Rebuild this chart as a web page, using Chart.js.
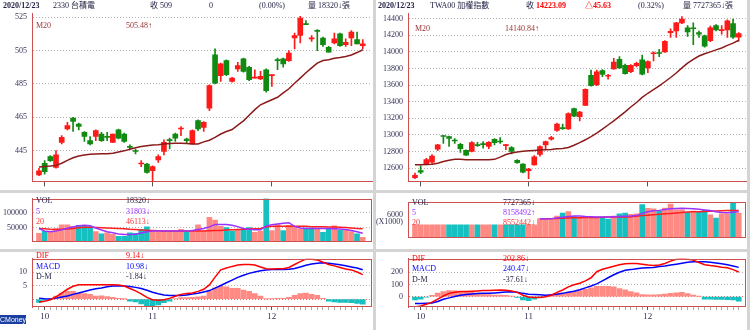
<!DOCTYPE html>
<html>
<head>
<meta charset="utf-8">
<title>2330 / TWA00</title>
<script src="https://cdn.jsdelivr.net/npm/chart.js@4.4.1/dist/chart.umd.min.js"></script>
<style>
  body { margin: 0; width: 750px; height: 330px; position: relative; overflow: hidden; background: #fff;
         font-family: "Liberation Serif", "Noto Sans CJK TC", serif; }
  canvas { position: absolute; }
  .sep { position: absolute; background: #d4d4d4; }
  .t { position: absolute; font-size: 8px; line-height: 10px; white-space: nowrap; color: #222244; z-index: 2; }
  .b { font-weight: bold; }
  .red { color: #ff0000; }
  .pur { color: #9933ff; }
  .blu { color: #0000ff; }
  .ma { color: #993333; }
  .vr { color: #ff3333; }
  #cm { position: absolute; left: 0; top: 315px; width: 26px; height: 9px; background: #1a3fa0; color: #fff;
        font-size: 7px; line-height: 9px; font-family: "Liberation Sans", sans-serif; z-index: 2; }
</style>
</head>
<body>
<div class="sep" style="left:0;top:190px;width:750px;height:3px"></div>
<div class="sep" style="left:0;top:249px;width:750px;height:3px"></div>
<div class="sep" style="left:373px;top:0;width:3px;height:330px"></div>
<div class="sep" style="left:747px;top:0;width:3px;height:330px"></div>

<div id="labels">
  <!-- left header -->
  <div class="t b" style="left:3px;top:1px">2020/12/23</div>
  <div class="t" style="left:53px;top:1px">2330 台積電</div>
  <div class="t" style="left:150px;top:1px">收 509</div>
  <div class="t" style="left:209px;top:1px">0</div>
  <div class="t" style="left:259px;top:1px">(0.00%)</div>
  <div class="t" style="left:308px;top:1px">量 18320↓張</div>
  <div class="t ma" style="left:36px;top:21px">M20</div>
  <div class="t ma" style="left:126px;top:21px">505.48↑</div>
  <div class="t" style="left:36px;top:196px">VOL</div>
  <div class="t pur" style="left:36px;top:207px">5</div>
  <div class="t vr" style="left:36px;top:217px">20</div>
  <div class="t" style="left:126px;top:196px">18320↓</div>
  <div class="t pur" style="left:126px;top:207px">31803↓</div>
  <div class="t vr" style="left:126px;top:217px">46113↓</div>
  <div class="t red" style="left:36px;top:251px">DIF</div>
  <div class="t blu" style="left:36px;top:262px">MACD</div>
  <div class="t" style="left:36px;top:272px">D-M</div>
  <div class="t red" style="left:126px;top:251px">9.14↓</div>
  <div class="t blu" style="left:126px;top:262px">10.98↓</div>
  <div class="t" style="left:126px;top:272px">-1.84↓</div>

  <!-- right header -->
  <div class="t b" style="left:378px;top:1px">2020/12/23</div>
  <div class="t" style="left:430px;top:1px">TWA00 加權指數</div>
  <div class="t" style="left:526px;top:1px">收 <b class="red">14223.09</b></div>
  <div class="t b red" style="left:585px;top:1px">△45.63</div>
  <div class="t" style="left:638px;top:1px">(0.32%)</div>
  <div class="t" style="left:683px;top:1px">量 7727365↓張</div>
  <div class="t ma" style="left:415px;top:24px">M20</div>
  <div class="t ma" style="left:505px;top:24px">14140.84↑</div>
  <div class="t" style="left:412px;top:198px">VOL</div>
  <div class="t pur" style="left:412px;top:208px">5</div>
  <div class="t vr" style="left:412px;top:218px">20</div>
  <div class="t" style="left:503px;top:198px">7727365↓</div>
  <div class="t pur" style="left:503px;top:208px">8158492↑</div>
  <div class="t vr" style="left:503px;top:218px">8552442↓</div>
  <div class="t red" style="left:412px;top:254px">DIF</div>
  <div class="t blu" style="left:412px;top:264px">MACD</div>
  <div class="t" style="left:412px;top:275px">D-M</div>
  <div class="t red" style="left:503px;top:254px">202.86↓</div>
  <div class="t blu" style="left:503px;top:264px">240.47↓</div>
  <div class="t" style="left:503px;top:275px">-37.61↓</div>

  <div id="cm">CMoney</div>
</div>

<script>
/************ DATA ************/
// bar index where each month starts, and the label under it
const monthStart = [1, 20, 41];
const monthLabels = ["10", "11", "12"];

// 2330 TSMC, 2020/09/30 .. 2020/12/23
const tsOpen = [430.5, 437.5, 441.5, 435, 450, 458, 464.5, 461, 456, 451,
  453.5, 455, 453.5, 450, 457.5, 455, 447.5, 445, 437, 437,
  433, 439.5, 444.5, 451.5, 455, 458, 452, 449, 463, 459,
  470.5, 502.5, 490, 499, 486.5, 494, 500, 495, 488.5, 488,
  493.5, 490, 499.5, 500, 499, 512.5, 514, 521, 512, 517,
  512.5, 507, 509.5, 515, 508.5, 512.5, 511.5, 508];
const tsHigh = [434.5, 439, 442, 445, 454, 462, 465, 461.5, 456.5, 453.5,
  457.5, 456, 456, 455, 458, 455.5, 448.5, 446, 439, 437.5,
  436, 442.5, 451.5, 452.5, 455.5, 459.5, 452.5, 457.5, 463.5, 462.5,
  484.5, 506, 497.5, 499.5, 489, 498, 500.5, 495.5, 493.5, 492.5,
  494, 490.5, 500.5, 500.5, 505, 515.5, 525.5, 523, 514, 517.5,
  513, 507.5, 515.5, 515.5, 512, 517, 516, 511.5];
const tsLow = [430, 431, 438.5, 434.5, 449, 457.5, 456.5, 457.5, 450.5, 448.5,
  451, 450.5, 451, 450, 452, 450, 446, 443, 435.5, 431.5,
  425.5, 438, 442.5, 446, 450.5, 454, 449.5, 449, 457, 456.5,
  469, 485, 486.5, 490, 486, 492.5, 492, 487, 488.5, 487.5,
  480, 483.5, 493.5, 495, 498.5, 506, 509.5, 520.5, 510.5, 505,
  507.5, 504, 509, 507.5, 507.5, 508, 509, 506];
const tsClose = [433, 432.5, 439, 442.5, 453, 460, 462.5, 459.5, 453.5, 449,
  457, 451, 453, 455, 452.5, 450.5, 447, 444.5, 437.5, 432,
  435.5, 441.5, 450, 451, 452.5, 458.5, 451, 457, 458, 462,
  484, 485.5, 497, 490.5, 488.5, 496, 492.5, 487.5, 489, 489.5,
  481, 490.5, 499, 497, 503.5, 514, 524.5, 520.5, 512.5, 516.5,
  508.5, 504, 512, 508, 510, 516, 509, 509];
const tsMa20 = [435.2, 435.5, 435.8, 436.2, 437.5, 439.2, 440.8, 441.8, 442.4, 442.8,
  443.0, 443.2, 443.2, 443.5, 444.2, 444.9, 445.9, 446.8, 447.5, 448.0,
  448.4, 448.6, 449.0, 449.3, 449.5, 449.5, 449.3, 449.0, 449.0, 450.3,
  451.3, 453.0, 455.0, 456.5, 457.7, 460.3, 462.9, 466.2, 469.6, 472.5,
  474.0, 475.5, 477.0, 479.6, 482.1, 485.4, 488.5, 491.7, 494.6, 497.5,
  499.0, 499.5, 500.4, 500.9, 501.5, 502.3, 503.8, 505.48];
const tsVol = [31600, 38600, 38600, 47400, 59600, 59600, 54400, 57900, 56100, 53500,
  36800, 29800, 33300, 28100, 21100, 21100, 33300, 31600, 44700, 52600,
  40400, 36800, 40400, 38600, 36800, 44700, 36800, 38600, 59600, 38600,
  84200, 75400, 54400, 50000, 38600, 43900, 41200, 50000, 34200, 38600,
  146500, 40400, 60500, 40400, 57900, 50900, 45600, 49100, 49100, 47400,
  34200, 45600, 56100, 41200, 42100, 36800, 29800, 18320];
const tsVolMa5 = [47400, 38600, 36800, 38600, 43000, 48200, 52600, 56100, 57900, 56100,
  49100, 42100, 36800, 33300, 29000, 27200, 27200, 28100, 32500, 36800,
  38600, 38600, 38600, 38600, 38600, 38600, 38600, 40400, 43900, 47400,
  52600, 60500, 60500, 60500, 57900, 53500, 47400, 44700, 43000, 43000,
  56100, 59600, 62300, 64900, 66700, 54400, 49100, 47400, 47400, 47400,
  47400, 47400, 46500, 45600, 43900, 40400, 36800, 31803];
const tsVolMa20 = [47370, 46490, 44740, 43860, 44740, 45620, 47370, 50000, 51750, 51750,
  50880, 50000, 49120, 48250, 47370, 46490, 44740, 43860, 42110, 41230,
  40350, 39480, 38600, 38600, 38600, 38600, 38600, 38600, 38600, 38600,
  39480, 40350, 40350, 42110, 43000, 43860, 44740, 45620, 46490, 47370,
  52630, 54390, 54390, 54390, 54390, 54390, 54390, 54390, 53510, 53510,
  53510, 52630, 52630, 51750, 50880, 49120, 47500, 46113];
const tsDif = [-1.0, -0.8, -0.2, 0.9, 2.3, 3.7, 4.8, 5.4, 5.4, 5.4,
  5.4, 5.4, 5.4, 5.4, 5.3, 4.9, 4.0, 3.1, 2.0, 0.7,
  -0.2, -0.4, -0.2, 0.3, 1.1, 1.8, 2.1, 2.3, 2.9, 3.7,
  5.3, 8.2, 10.9, 11.6, 12.2, 12.7, 12.9, 12.9, 12.7, 12.0,
  11.3, 11.2, 11.3, 11.3, 11.8, 12.9, 14.0, 14.9, 14.9, 14.6,
  13.8, 12.9, 12.4, 11.8, 11.2, 10.9, 10.1, 9.14];
const tsMacd = [0.4, 0.2, 0.1, 0.4, 0.8, 1.2, 1.8, 2.3, 2.9, 3.4,
  3.9, 4.2, 4.6, 4.9, 4.9, 4.9, 4.7, 4.4, 4.0, 3.3,
  2.6, 2.0, 1.6, 1.4, 1.4, 1.4, 1.6, 1.9, 2.2, 2.7,
  3.2, 4.1, 5.1, 6.1, 7.1, 8.1, 8.9, 9.6, 10.1, 10.6,
  10.9, 11.0, 11.0, 11.0, 11.1, 11.4, 12.0, 12.6, 13.1, 13.4,
  13.6, 13.4, 13.1, 12.8, 12.4, 12.0, 11.6, 10.98];
const tsOsc = [-1.2, -0.4, 0.1, 1.2, 2.3, 2.9, 2.9, 2.3, 2.1, 1.8,
  1.2, 1.3, 1.0, 0.7, 0.3, 0.05, -0.7, -1.0, -1.8, -2.7,
  -2.7, -2.1, -1.3, -0.7, 0.2, 0.6, 0.6, 0.7, 0.9, 1.2,
  2.9, 4.2, 4.8, 4.6, 4.0, 4.0, 3.4, 2.9, 2.1, 1.2,
  0.1, 0.1, 0.3, 0.3, 0.7, 1.4, 2.1, 2.3, 1.8, 1.4,
  0.3, -0.7, -1.0, -1.2, -1.2, -1.3, -1.6, -1.84];

// TWA00 weighted index, same dates
const twOpen = [12484, 12569, 12647, 12670, 12829, 12984, 12980, 12933, 12887, 12813,
  12802, 12883, 12891, 12860, 12945, 12922, 12871, 12848, 12693, 12647,
  12569, 12639, 12763, 12879, 12949, 13053, 13084, 13072, 13316, 13220,
  13355, 13719, 13607, 13777, 13707, 13796, 13912, 13839, 13761, 13835,
  13905, 13808, 13978, 13990, 14001, 14234, 14253, 14350, 14292, 14288,
  14234, 14195, 14137, 14319, 14258, 14265, 14342, 14180];
const twHigh = [12538, 12627, 12716, 12763, 12887, 12995, 12987, 12956, 12898, 12821,
  12918, 12910, 12918, 12918, 12956, 12968, 12887, 12860, 12701, 12655,
  12597, 12751, 12867, 12926, 12984, 13142, 13131, 13266, 13324, 13285,
  13556, 13781, 13781, 13789, 13730, 13924, 13943, 13854, 13847, 13878,
  13963, 13893, 14001, 14032, 14137, 14280, 14357, 14427, 14319, 14350,
  14253, 14203, 14311, 14330, 14319, 14388, 14396, 14235];
const twLow = [12473, 12531, 12639, 12655, 12809, 12898, 12860, 12898, 12790, 12751,
  12794, 12860, 12840, 12833, 12879, 12898, 12821, 12771, 12655, 12542,
  12473, 12635, 12744, 12833, 12937, 13042, 13065, 13065, 13220, 13169,
  13351, 13587, 13595, 13703, 13672, 13789, 13800, 13731, 13750, 13820,
  13723, 13750, 13893, 13943, 13994, 14176, 14176, 14342, 14187, 14087,
  14176, 14059, 14125, 14253, 14214, 14176, 14164, 14130];
const twClose = [12511, 12550, 12701, 12744, 12879, 12980, 12956, 12926, 12833, 12755,
  12906, 12871, 12883, 12910, 12906, 12914, 12879, 12802, 12666, 12550,
  12589, 12736, 12860, 12918, 12968, 13131, 13076, 13258, 13227, 13274,
  13549, 13595, 13761, 13730, 13715, 13878, 13808, 13738, 13839, 13862,
  13731, 13885, 13986, 13982, 14129, 14249, 14350, 14396, 14241, 14280,
  14214, 14071, 14292, 14265, 14268, 14377, 14177.46, 14223.09];
const twMa20 = [12639, 12639, 12643, 12647, 12658, 12678, 12693, 12705, 12705, 12701,
  12701, 12701, 12701, 12701, 12705, 12732, 12763, 12782, 12794, 12802,
  12809, 12813, 12817, 12821, 12825, 12833, 12837, 12848, 12875, 12906,
  12941, 12980, 13022, 13069, 13119, 13169, 13224, 13278, 13336, 13390,
  13452, 13502, 13545, 13591, 13641, 13692, 13746, 13808, 13866, 13912,
  13951, 13978, 14001, 14025, 14048, 14079, 14106, 14140.84];
// volume in thousands of shares
const twVol = [4090, 4090, 4090, 4090, 4090, 4090, 4090, 4090, 4090, 4090,
  4090, 4090, 4090, 4090, 4090, 4090, 4090, 4090, 4090, 4090,
  4090, 4090, 6000, 5660, 5660, 6820, 7710, 8180, 6680, 6340,
  6680, 6340, 6340, 6140, 5870, 6820, 7500, 7710, 7370, 7500,
  10430, 9210, 9070, 8390, 9280, 10570, 8730, 8730, 8050, 8390,
  8050, 8590, 7230, 6210, 7500, 7500, 10980, 7727];
const twVolMa5 = [null, null, null, null, null, null, null, null, null, null,
  null, null, null, null, null, null, null, null, null, null,
  null, null, 6000, 5870, 6000, 6210, 6410, 6680, 6820, 6820,
  6680, 6620, 6550, 6550, 6550, 6620, 6680, 6750, 6820, 6960,
  7640, 8180, 8460, 8590, 8870, 9070, 9210, 9280, 9210, 9070,
  8930, 8730, 8530, 8180, 7910, 7840, 7980, 8158];
const twVolMa20 = [null, null, null, null, null, null, null, null, null, null,
  null, null, null, null, null, null, null, null, null, null,
  null, null, 6000, 6000, 6000, 6070, 6140, 6210, 6270, 6270,
  6340, 6340, 6340, 6410, 6480, 6480, 6550, 6550, 6620, 6750,
  6960, 7090, 7230, 7370, 7500, 7640, 7770, 7910, 8050, 8120,
  8180, 8250, 8320, 8390, 8460, 8530, 8530, 8552];
const twDif = [-85, -77, -62, -45, -20, 5, 27, 37, 42, 42,
  45, 47, 50, 50, 52, 55, 52, 47, 35, 12,
  -2, -7, -7, 0, 12, 35, 55, 80, 97, 110,
  130, 155, 205, 225, 237, 250, 262, 270, 272, 272,
  267, 260, 255, 260, 272, 292, 307, 310, 308, 300,
  280, 262, 255, 250, 242, 237, 222, 202.86];
const twMacd = [-57, -57, -55, -52, -40, -22, -10, 2, 12, 17,
  22, 25, 27, 27, 30, 34, 38, 40, 36, 27,
  20, 17, 15, 12, 15, 20, 27, 37, 45, 57,
  72, 87, 105, 130, 155, 180, 200, 217, 222, 230,
  235, 237, 240, 247, 252, 260, 267, 275, 282, 287,
  287, 287, 282, 277, 270, 262, 252, 240.47];
const twOsc = [-27, -20, -5, 10, 30, 42, 50, 47, 42, 37,
  37, 30, 25, 17, 12, 12, 10, 5, -7, -27,
  -32, -20, -2, 10, 17, 25, 30, 37, 42, 50,
  60, 72, 85, 85, 85, 80, 67, 55, 42, 32,
  17, 15, 15, 17, 22, 27, 32, 35, 25, 12,
  2, -20, -20, -22, -22, -25, -27, -37.61];

// axis ticks
const tsPriceTicks = [445, 465, 485, 505, 525];
const twPriceTicks = [12600, 12800, 13000, 13200, 13400, 13600, 13800, 14000, 14200, 14400];
const tsVolTicks = [50000, 100000];
const twVolTicks = [6000];
const tsMacdTicks = [0, 5, 10];
const twMacdTicks = [0, 100, 200];

/************ STYLE ************/
const UP = "#ff1a1a", DOWN = "#108a10";
const VOL_UP = "#ff8a84", VOL_DOWN = "#16c0c0";
const FRAME = "#cc5050";
const GRID = "#b4b4b4";
const TICK_TXT = "#333355";
const FONT = '"Liberation Serif", "Noto Sans CJK TC", serif';
const ALL = tsClose.map((_, i) => i);

/************ HELPERS ************/
const frame = {
    id: "frame",
    afterDraw(chart, args, o) {
        if (!o.on) return;
        const a = chart.chartArea, ctx = chart.ctx;
        ctx.save();
        ctx.strokeStyle = FRAME;
        ctx.lineWidth = 1;
        ctx.strokeRect(Math.round(a.left) + 0.5, Math.round(a.top) + 0.5,
            Math.round(a.right - a.left) - 1, Math.round(a.bottom - a.top) - 1);
        ctx.restore();
    }
};

const pts = arr => arr.map((v, i) => ({ x: i, y: v }));

function line(arr, color) {
    return { type: "line", data: pts(arr), borderColor: color, borderWidth: 1.5,
        pointRadius: 0, fill: false, spanGaps: false, order: 0 };
}

function bars(arr, colors) {
    return { data: pts(arr), backgroundColor: colors, barThickness: 5, grouped: false, order: 1 };
}

function candles(o, h, l, c) {
    const col = c.map((v, i) => v >= o[i] ? UP : DOWN);
    return [
        { data: l.map((v, i) => ({ x: i, y: [v, h[i]] })), backgroundColor: col,
          barThickness: 1, grouped: false, order: 2 },
        { data: o.map((v, i) => ({ x: i, y: [Math.min(v, c[i]), Math.max(v, c[i])] })),
          backgroundColor: col, barThickness: 5, minBarLength: 1, grouped: false, order: 1 }
    ];
}

// volume colour: close vs previous close
const volColors = (c, o) => c.map((v, i) => v >= (i ? c[i - 1] : o[0]) ? VOL_UP : VOL_DOWN);
const oscColors = arr => arr.map(v => v >= 0 ? VOL_UP : VOL_DOWN);

function yScale(min, max, ticks, width, opt = {}) {
    return {
        min, max,
        afterFit: s => { s.width = width; },
        afterBuildTicks: s => { s.ticks = ticks.map(v => ({ value: v })); },
        ticks: { padding: 5, color: TICK_TXT, font: { family: FONT, size: 8, lineHeight: 0.9 },
                 callback: opt.label || (v => String(v)) },
        grid: { display: opt.grid !== false, drawTicks: false,
                color: c => c.tick && c.tick.value === 0 ? "#ff6060" : GRID },
        border: { display: true, color: FRAME, dash: [1, 2] }
    };
}

function xScale(max, opt) {
    return {
        type: "linear", min: -1.23, max, offset: false, display: opt.display !== false,
        afterFit: s => { s.height = opt.height; },
        afterBuildTicks: s => { s.ticks = (opt.every ? ALL : monthStart).map(v => ({ value: v })); },
        ticks: { display: !!opt.labels, autoSkip: false, maxRotation: 0, padding: 1, color: TICK_TXT,
                 font: { family: FONT, size: 9 },
                 callback: v => { const k = monthStart.indexOf(v); return k < 0 ? "" : monthLabels[k]; } },
        grid: { drawOnChartArea: false, offset: false, tickLength: opt.tick || 3,
                tickColor: c => monthStart.includes(c.tick && c.tick.value) ? "#555" : "#aaa" },
        border: { display: opt.border !== false, color: FRAME }
    };
}

function makeChart(box, datasets, scales, pad, framed) {
    const cv = document.createElement("canvas");
    cv.width = box[2];
    cv.height = box[3];
    cv.style.left = box[0] + "px";
    cv.style.top = box[1] + "px";
    document.body.insertBefore(cv, document.getElementById("labels"));
    return new Chart(cv, {
        type: "bar",
        data: { datasets },
        options: {
            responsive: false, animation: false, events: [],
            layout: { padding: pad },
            plugins: { legend: { display: false }, tooltip: { enabled: false }, frame: { on: framed } },
            scales
        },
        plugins: [frame]
    });
}

/************ LEFT: 2330 ************/
makeChart([0, 0, 375, 190],
    [...candles(tsOpen, tsHigh, tsLow, tsClose), line(tsMa20, "#8b1a1a")],
    { x: xScale(58.63, { height: 2, tick: 5 }), y: yScale(426.6, 527.5, tsPriceTicks, 32) },
    { top: 13, right: 3, bottom: 0, left: 0 }, false);

makeChart([0, 190, 375, 60],
    [bars(tsVol, volColors(tsClose, tsOpen)), line(tsVolMa5, "#9933ff"), line(tsVolMa20, "#ff2020")],
    { x: xScale(58.63, { display: false, height: 0 }), y: yScale(4470, 146600, tsVolTicks, 32) },
    { top: 4, right: 3, bottom: 2, left: 0 }, true);

makeChart([0, 250, 375, 80],
    [bars(tsOsc, oscColors(tsOsc)), line(tsDif, "#ff0000"), line(tsMacd, "#0000ff")],
    { x: xScale(58.63, { height: 23, labels: true, every: true, border: false }),
      y: yScale(-2.9, 15.1, tsMacdTicks, 32, { label: v => v === 0 ? "" : String(v) }) },
    { top: 3, right: 3, bottom: 0, left: 0 }, true);

/************ RIGHT: TWA00 ************/
makeChart([375, 0, 375, 190],
    [...candles(twOpen, twHigh, twLow, twClose), line(twMa20, "#8b1a1a")],
    { x: xScale(58.28, { height: 2, tick: 5 }), y: yScale(12439, 14470, twPriceTicks, 33) },
    { top: 13, right: 4, bottom: 0, left: 0 }, false);

makeChart([375, 190, 375, 60],
    [bars(twVol, volColors(twClose, twOpen)), line(twVolMa5, "#9933ff"), line(twVolMa20, "#ff2020")],
    { x: xScale(58.28, { display: false, height: 0 }),
      y: yScale(0, 11150, twVolTicks, 33, { grid: false, label: v => [String(v), "(X1000)"] }) },
    { top: 3, right: 4, bottom: 2, left: 0 }, true);

makeChart([375, 250, 375, 80],
    [bars(twOsc, oscColors(twOsc)), line(twDif, "#ff0000"), line(twMacd, "#0000ff")],
    { x: xScale(58.28, { height: 23, labels: true, every: true, border: false }),
      y: yScale(-85, 312.5, twMacdTicks, 33) },
    { top: 4, right: 4, bottom: 0, left: 0 }, true);
</script>
</body>
</html>
